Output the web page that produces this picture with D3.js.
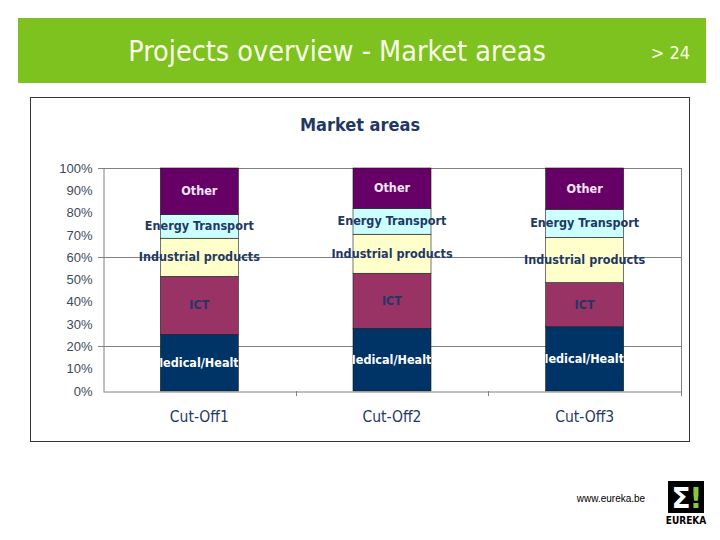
<!DOCTYPE html>
<html><head><meta charset="utf-8">
<script src="https://cdn.jsdelivr.net/npm/d3@7"></script>
<style>
html,body{margin:0;padding:0;background:#fff;}
svg{display:block;}
</style></head>
<body>
<svg id="c" width="720" height="540"></svg>
<script>
const categories = ["Cut-Off1", "Cut-Off2", "Cut-Off3"];
const seriesNames = ["Medical/Health", "ICT", "Industrial products", "Energy Transport", "Other"];
const medical    = [25.4, 28.1, 28.8];
const ict        = [26.0, 24.7, 19.8];
const industrial = [17.1, 17.5, 20.3];
const energy     = [10.7, 11.6, 12.6];
const other      = [20.8, 18.1, 18.5];
const tickValues = [0, 10, 20, 30, 40, 50, 60, 70, 80, 90, 100];
const gridValues = [20, 60, 100];

const colors = ["#003366", "#993366", "#ffffcc", "#ccffff", "#660066"];
const labelColors = ["#ffffff", "#1f3864", "#1f3864", "#1f3864", "#f3e6f3"];

const svg = d3.select("#c");
const condensed = "'DejaVu Sans Condensed','DejaVu Sans',sans-serif";

// header band
svg.append("rect").attr("x", 18).attr("y", 18).attr("width", 688).attr("height", 65).attr("fill", "#7dc21e");
svg.append("text").attr("x", 337).attr("y", 61).attr("text-anchor", "middle")
  .attr("font-family", condensed).attr("font-size", 28.5).attr("fill", "#fbfde8")
  .text("Projects overview - Market areas");
svg.append("text").attr("x", 690).attr("y", 59).attr("text-anchor", "end")
  .attr("font-family", condensed).attr("font-size", 18).attr("fill", "#fbfde8")
  .text("> 24");

// chart box
svg.append("rect").attr("x", 30.5).attr("y", 97.5).attr("width", 659).attr("height", 344)
  .attr("fill", "#fff").attr("stroke", "#333").attr("stroke-width", 1);
svg.append("text").attr("x", 360).attr("y", 131).attr("text-anchor", "middle")
  .attr("font-family", condensed).attr("font-weight", "bold").attr("font-size", 18).attr("fill", "#1f3864")
  .text("Market areas");

const x0 = 103, x1 = 681, yTop = 168, yBot = 391;
const xc = d3.scaleBand().domain(categories).range([x0, x1]);
const y = d3.scaleLinear().domain([0, 100]).range([yBot, yTop]);

const g = svg.append("g");
// gridlines
g.selectAll("line.grid").data(gridValues).join("line")
  .attr("x1", x0 - 5).attr("x2", x1).attr("y1", d => Math.round(y(d)) + 0.5).attr("y2", d => Math.round(y(d)) + 0.5)
  .attr("stroke", "#808080").attr("stroke-width", 1);

// stacked data
const rows = categories.map((c, i) => ({
  cat: c, "Medical/Health": medical[i], "ICT": ict[i], "Industrial products": industrial[i],
  "Energy Transport": energy[i], "Other": other[i]
}));
const stack = d3.stack().keys(seriesNames)(rows);

const bw = 78;
const layers = g.selectAll("g.layer").data(stack).join("g").attr("class", "layer");
layers.each(function(layer, si) {
  d3.select(this).selectAll("rect").data(layer).join("rect")
    .attr("x", d => xc(d.data.cat) + xc.bandwidth() / 2 - bw / 2)
    .attr("width", bw)
    .attr("y", d => y(d[1]))
    .attr("height", d => y(d[0]) - y(d[1]))
    .attr("fill", colors[si])
    .attr("stroke", "#1a1a1a").attr("stroke-width", 0.6);
});

// axes
const yAxis = d3.axisLeft(y).tickValues(tickValues).tickSize(0).tickPadding(11).tickFormat(d => d + "%");
const ya = svg.append("g").attr("transform", `translate(${x0 + 0.5},0)`).call(yAxis);
ya.select(".domain").attr("stroke", "#808080");
ya.selectAll("text").attr("font-family", "'Liberation Sans',Arial,sans-serif").attr("font-size", 13).attr("fill", "#3b4a5a");

const xAxis = d3.axisBottom(xc).tickSize(0).tickPadding(0);
const xa = svg.append("g").attr("transform", `translate(0,${yBot + 0.5})`).call(xAxis);
xa.select(".domain").attr("stroke", "#808080");
xa.selectAll("text").attr("dy", 0).attr("y", 30)
  .attr("font-family", condensed).attr("font-size", 15.5).attr("fill", "#1f3864");
// category separator ticks
svg.selectAll("line.ct").data(categories).join("line")
  .attr("x1", d => Math.round(xc(d) + xc.bandwidth()) + 0.5).attr("x2", d => Math.round(xc(d) + xc.bandwidth()) + 0.5)
  .attr("y1", yBot).attr("y2", yBot + 5).attr("stroke", "#808080");
svg.append("line").attr("x1", x1 + 0.5).attr("x2", x1 + 0.5).attr("y1", yTop).attr("y2", yBot).attr("stroke", "#808080");

// labels (Medical label clipped to its bar)
const defs = svg.append("defs");
categories.forEach((c, i) => {
  defs.append("clipPath").attr("id", "clip" + i).append("rect")
    .attr("x", xc(c) + xc.bandwidth() / 2 - bw / 2).attr("width", bw).attr("y", yTop).attr("height", yBot - yTop);
});
const lbl = svg.append("g");
stack.forEach((layer, si) => {
  layer.forEach((d, i) => {
    const t = lbl.append("text")
      .attr("x", xc(d.data.cat) + xc.bandwidth() / 2)
      .attr("y", (y(d[0]) + y(d[1])) / 2 + 4)
      .attr("text-anchor", "middle")
      .attr("font-family", condensed).attr("font-size", 12.5).attr("font-weight", 600)
      .attr("fill", labelColors[si])
      .text(layer.key);
    if (si === 0) t.attr("clip-path", `url(#clip${i})`);
  });
});

// footer
svg.append("text").attr("x", 611).attr("y", 502).attr("text-anchor", "middle")
  .attr("font-family", "'Liberation Sans',Arial,sans-serif").attr("font-size", 10).attr("fill", "#000")
  .text("www.eureka.be");
svg.append("rect").attr("x", 668).attr("y", 481).attr("width", 36).attr("height", 32).attr("fill", "#000");
svg.append("text").attr("x", 681).attr("y", 508).attr("text-anchor", "middle")
  .attr("font-family", "'DejaVu Sans',sans-serif").attr("font-weight", "bold").attr("font-size", 28).attr("fill", "#fff").text("Σ");
svg.append("text").attr("x", 696).attr("y", 508).attr("text-anchor", "middle")
  .attr("font-family", "'DejaVu Sans',sans-serif").attr("font-weight", "bold").attr("font-size", 28).attr("fill", "#8cc63f").text("!");
svg.append("text").attr("x", 686).attr("y", 524).attr("text-anchor", "middle")
  .attr("font-family", condensed).attr("font-weight", "bold").attr("font-size", 10).attr("fill", "#000").text("EUREKA");
</script>
</body></html>
